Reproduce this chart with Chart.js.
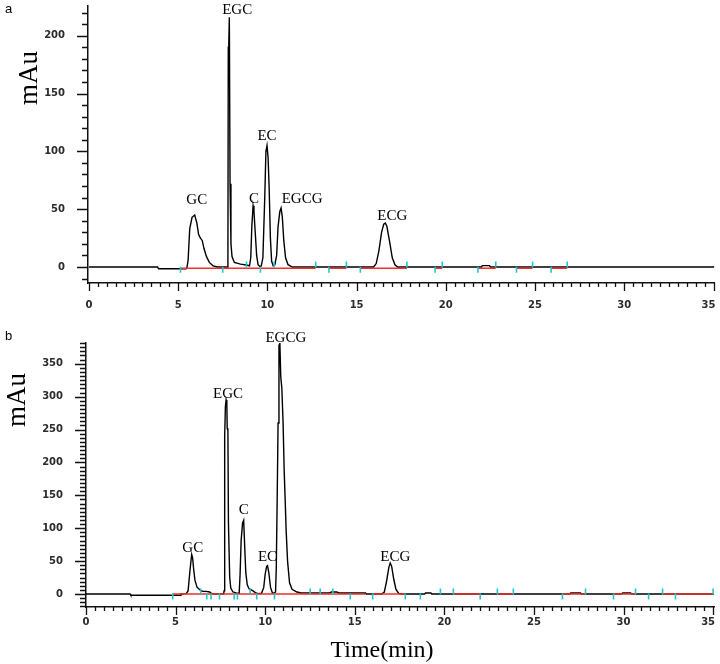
<!DOCTYPE html>
<html>
<head>
<meta charset="utf-8">
<script src="https://cdn.jsdelivr.net/npm/chart.js@4.4.1/dist/chart.umd.min.js"></script>
<style>
    html, body { margin: 0; padding: 0; background: #fff; }
    #wrap { position: relative; width: 720px; height: 664px; }
    canvas { position: absolute; left: 0; }
    #chart-a { top: 0; }
    #chart-b { top: 330px; }
</style>
</head>
<body>
<div id="wrap">
    <canvas id="chart-a" width="720" height="330"></canvas>
    <canvas id="chart-b" width="720" height="334"></canvas>
</div>
<script>
// ---- panel a: chromatogram trace (time in min, signal in mAu) ----
const timeA = [0, 3.85, 3.9, 5.45, 5.5, 5.56, 5.65, 5.78, 5.93, 6.05, 6.15, 6.25, 6.35, 6.45, 6.59, 6.75, 6.96, 7.2,
    7.76, 7.79, 7.81, 7.84, 7.87, 7.91, 7.96, 8.02, 8.15, 8.5, 8.9,
    9.0, 9.07, 9.13, 9.2, 9.25, 9.32, 9.4, 9.48, 9.58,
    9.66, 9.75, 9.85, 9.92, 9.98, 10.04, 10.1, 10.17, 10.24, 10.33,
    10.42, 10.52, 10.6, 10.7, 10.77, 10.84, 10.92, 11.02, 11.16, 11.4,
    15.95, 16.1, 16.25, 16.4, 16.52, 16.61, 16.7, 16.85, 17.0, 17.15, 17.3,
    22.0, 22.05, 22.45, 22.5, 35.05];
const mauA = [0, 0, -1.5, -1.5, 0, 6, 33, 43, 45, 38, 28, 25, 23, 16, 9, 4, 1, 0,
    0, 6, 190, 194, 216, 72, 20, 9, 4, 2.5, 1.5,
    1, 8, 35, 53, 48, 30, 10, 2, 0.5,
    1, 8, 58, 100, 105, 95, 69, 25, 5, 1,
    2, 10, 35, 48, 51, 43, 23, 8, 2, 0,
    0, 3, 14, 30, 37, 38, 35, 22, 8, 2, 0,
    0, 1.2, 1.2, 0, 0];

// integration baseline (red) segments and event marks (cyan), panel a
const redStartA = [5.13, 13.45, 15.21, 19.4, 21.8, 23.96, 25.9];
const redEndA = [12.71, 14.43, 17.82, 19.8, 22.8, 24.86, 26.8];
const markTimeA = [5.13, 7.5, 8.83, 9.61, 10.38, 12.71, 13.45, 14.43, 15.21, 17.82, 19.4, 19.8, 21.8, 22.8, 23.96, 24.86, 25.9, 26.8];
const markSideA = [-1, -1, 1, -1, 1, 1, -1, 1, -1, 1, -1, 1, -1, 1, -1, 1, -1, 1];

// peak names and retention times, panel a
const peakNamesA = ['GC', 'EGC', 'C', 'EC', 'EGCG', 'ECG'];
const peakTimesA = [5.93, 7.86, 9.2, 9.98, 10.77, 16.61];

// ---- panel b ----
const timeB = [0, 2.46, 2.5, 5.27, 5.3, 5.6, 5.7, 5.8, 5.85, 5.9, 5.95, 6.0, 6.08, 6.2, 6.37, 6.5, 6.7, 6.9, 7.0, 7.1,
    7.68, 7.71, 7.74, 7.78, 7.82, 7.86, 7.88, 7.92, 7.95, 8.02, 8.08, 8.2, 8.45,
    8.55, 8.6, 8.66, 8.74, 8.8, 8.86, 8.92, 9.0, 9.1, 9.3, 9.45, 9.6,
    9.8, 9.92, 10.0, 10.08, 10.13, 10.2, 10.3, 10.4, 10.5,
    10.58, 10.62, 10.67, 10.72, 10.77, 10.82, 10.87, 10.93, 11.0, 11.06, 11.12, 11.17, 11.25, 11.36, 11.5, 11.77, 12.0,
    13.6, 13.7, 14.0, 14.1, 15.6, 15.65,
    16.5, 16.65, 16.78, 16.9, 16.98, 17.06, 17.18, 17.3, 17.45, 17.6,
    18.9, 18.95, 19.25, 19.3, 27.0, 27.05, 27.6, 27.65, 29.9, 29.95, 30.4, 30.45, 35.05];
const mauB = [0, 0, -2, -2, 0, 0.5, 5, 35, 48, 60, 55, 40, 21, 10, 6, 4, 4, 3, 1, 0,
    0, 5, 240, 285, 295, 290, 252, 248, 108, 25, 9, 3, 1,
    1, 30, 82, 108, 112, 70, 32, 14, 8, 5, 2, 0.5,
    1, 10, 30, 42, 43, 33, 10, 2, 1,
    3, 40, 143, 260, 378, 381, 330, 313, 260, 188, 140, 97, 50, 17, 7, 3, 1.5,
    1.5, 3, 3, 1.5, 1.5, 0,
    0, 3, 20, 40, 47, 42, 22, 7, 1, 0,
    0, 1.5, 1.5, 0, 0, 1.5, 1.5, 0, 0, 1.5, 1.5, 0, 0];

const redStartB = [4.84, 16.0, 20.5, 22.96, 26.59, 29.44, 32.18];
const redEndB = [15.6, 17.82, 22.0, 23.85, 27.88, 30.67, 35.0];
const markTimeB = [4.84, 6.4, 6.74, 6.98, 7.45, 8.27, 8.45, 9.16, 9.53, 10.52, 12.51, 13.07, 13.78, 14.75, 16.0,
    17.82, 18.66, 19.78, 20.5, 22.0, 22.96, 23.85, 26.59, 27.88, 29.44, 30.67, 31.4, 32.18, 32.9, 35.0];
const markSideB = [-1, 1, -1, -1, -1, -1, -1, 1, -1, -1, 1, 1, 1, -1, -1,
    -1, -1, 1, 1, -1, 1, 1, -1, 1, -1, 1, -1, 1, -1, 1];

const peakNamesB = ['GC', 'EGC', 'C', 'EC', 'EGCG', 'ECG'];
const peakTimesB = [5.9, 7.82, 8.8, 10.13, 10.82, 16.98];

function isMajor(v, step) {
    return Math.abs(v / step - Math.round(v / step)) < 1e-6;
}

function zip(xs, ys) {
    return xs.map((x, i) => ({ x: x, y: ys[i] }));
}

function redSegments(starts, ends, level) {
    const pts = [];
    starts.forEach((s, i) => {
        pts.push({ x: s, y: level }, { x: ends[i], y: level }, { x: ends[i], y: null });
    });
    return pts;
}

// tick marks: long for labelled values, short in between
const tickMarks = {
    id: 'tickMarks',
    afterDraw(chart, args, opts) {
        const ctx = chart.ctx;
        const { x, y } = chart.scales;
        ctx.save();
        ctx.strokeStyle = '#111';
        ctx.lineWidth = 1.3;
        ctx.beginPath();
        x.ticks.forEach(t => {
            const px = Math.round(x.getPixelForValue(t.value)) + 0.5;
            const len = isMajor(t.value, opts.xMajor) ? 8 : 4;
            ctx.moveTo(px, x.top);
            ctx.lineTo(px, x.top + len);
        });
        y.ticks.forEach(t => {
            const py = Math.round(y.getPixelForValue(t.value)) + 0.5;
            const len = isMajor(t.value, opts.yMajor) ? 11 : 6;
            ctx.moveTo(y.right, py);
            ctx.lineTo(y.right - len, py);
        });
        ctx.stroke();
        ctx.restore();
    }
};

// panel letter, axis titles and peak names
const chromText = {
    id: 'chromText',
    afterDraw(chart, args, opts) {
        const ctx = chart.ctx;
        const { x, y } = chart.scales;
        const trace = chart.data.datasets[0].data;
        ctx.save();
        ctx.fillStyle = '#000';

        ctx.font = '13px "Liberation Sans", Arial, sans-serif';
        ctx.textAlign = 'left';
        ctx.textBaseline = 'alphabetic';
        ctx.fillText(opts.letter, 5, opts.letterY);

        ctx.save();
        ctx.translate(opts.yTitle[0], opts.yTitle[1]);
        ctx.rotate(-Math.PI / 2);
        ctx.font = '27px "Liberation Serif", "Times New Roman", serif';
        ctx.textAlign = 'center';
        ctx.fillText('mAu', 0, 0);
        ctx.restore();

        if (opts.xTitle) {
            ctx.font = '24px "Liberation Serif", "Times New Roman", serif';
            ctx.textAlign = 'center';
            ctx.fillText('Time(min)', opts.xTitle[0], opts.xTitle[1]);
        }

        ctx.font = '15px "Liberation Serif", "Times New Roman", serif';
        ctx.textAlign = 'center';
        ctx.textBaseline = 'middle';
        opts.names.forEach((name, i) => {
            const t = opts.times[i];
            let top = 0;
            trace.forEach(p => {
                if (Math.abs(p.x - t) < 0.12 && p.y > top) top = p.y;
            });
            const px = x.getPixelForValue(t) + opts.dx[i];
            const py = y.getPixelForValue(top) + opts.dy[i];
            ctx.fillText(name, px, py);
        });
        ctx.restore();
    }
};

const tickFont = { family: 'DejaVu Sans', size: 10, weight: 'bold' };

// keep the plot box where the layout padding puts it
function noEdgePadding(s) {
    s.paddingTop = 0;
    s.paddingBottom = 0;
    s.paddingLeft = 0;
    s.paddingRight = 0;
}

function makeChart(id, p) {
    const ctx = document.getElementById(id).getContext('2d');
    return new Chart(ctx, {
        type: 'line',
        data: {
            datasets: [
                {
                    label: 'trace',
                    data: zip(p.time, p.mau),
                    borderColor: '#000',
                    borderWidth: 1.4,
                    pointRadius: 0,
                    tension: 0,
                    order: 2
                },
                {
                    label: 'baseline',
                    data: redSegments(p.redStart, p.redEnd, p.redLevel),
                    borderColor: '#f0302a',
                    borderWidth: 1.5,
                    pointRadius: 0,
                    spanGaps: false,
                    order: 1
                },
                {
                    label: 'events',
                    type: 'scatter',
                    data: p.markTime.map((t, i) => ({ x: t, y: p.markSide[i] * p.markOffset })),
                    pointStyle: 'line',
                    rotation: 90,
                    radius: 3,
                    borderColor: '#22c4d2',
                    borderWidth: 1.6,
                    order: 0
                }
            ]
        },
        options: {
            responsive: false,
            animation: false,
            layout: { padding: { top: p.padTop, right: p.padRight, left: 0, bottom: 0 } },
            plugins: {
                legend: { display: false },
                tooltip: { enabled: false },
                tickMarks: { xMajor: 5, yMajor: 50 },
                chromText: {
                    letter: p.letter,
                    letterY: p.letterY,
                    yTitle: p.yTitle,
                    xTitle: p.xTitle,
                    names: p.names,
                    times: p.times,
                    dx: p.dx,
                    dy: p.dy
                }
            },
            scales: {
                x: {
                    type: 'linear',
                    min: p.xMin,
                    max: p.xMax,
                    border: { color: '#111', width: 1.5 },
                    grid: { display: false, drawTicks: false },
                    ticks: {
                        stepSize: 0.5,
                        autoSkip: false,
                        includeBounds: false,
                        maxRotation: 0,
                        padding: p.xPad,
                        font: tickFont,
                        color: '#2b2b2b',
                        // last label is nudged left so it stays inside the frame
                        callback: v => isMajor(v, 5) ? (v >= 35 ? '35\u2002\u2002' : String(Math.round(v))) : ''
                    },
                    afterFit: s => { s.height = p.xHeight; noEdgePadding(s); }
                },
                y: {
                    type: 'linear',
                    min: p.yMin,
                    max: p.yMax,
                    border: { color: '#111', width: 1.5 },
                    grid: { display: false, drawTicks: false },
                    ticks: {
                        stepSize: p.yStep,
                        autoSkip: false,
                        includeBounds: false,
                        padding: 23,
                        font: tickFont,
                        color: '#2b2b2b',
                        callback: v => isMajor(v, 50) ? String(Math.round(v)) : ''
                    },
                    afterFit: s => { s.width = p.yWidth; noEdgePadding(s); }
                }
            }
        },
        plugins: [tickMarks, chromText]
    });
}

const chartA = makeChart('chart-a', {
    time: timeA, mau: mauA,
    redStart: redStartA, redEnd: redEndA, redLevel: -1,
    markTime: markTimeA, markSide: markSideA, markOffset: 2.3,
    names: peakNamesA, times: peakTimesA,
    dx: [2, 8, 1, 0, 21, 7],
    dy: [-15, -7, -7, -10, -9, -7],
    letter: 'a', letterY: 13, yTitle: [37, 78], xTitle: null,
    padTop: 5, padRight: 5, xHeight: 47, yWidth: 88, xPad: 16,
    xMin: -0.05, xMax: 35.05, yMin: -13.8, yMax: 226, yStep: 10
});

const chartB = makeChart('chart-b', {
    time: timeB, mau: mauB,
    redStart: redStartB, redEnd: redEndB, redLevel: 0,
    markTime: markTimeB, markSide: markSideB, markOffset: 3.8,
    names: peakNamesB, times: peakTimesB,
    dx: [1, 2, 0, 0, 6, 5],
    dy: [-6, -6, -10, -9, -5, -6],
    letter: 'b', letterY: 10, yTitle: [25, 70], xTitle: [382, 327],
    padTop: 13, padRight: 6, xHeight: 57, yWidth: 86, xPad: 9,
    xMin: 0, xMax: 35.05, yMin: -19.8, yMax: 381.5, yStep: 6.25
});
</script>
</body>
</html>
